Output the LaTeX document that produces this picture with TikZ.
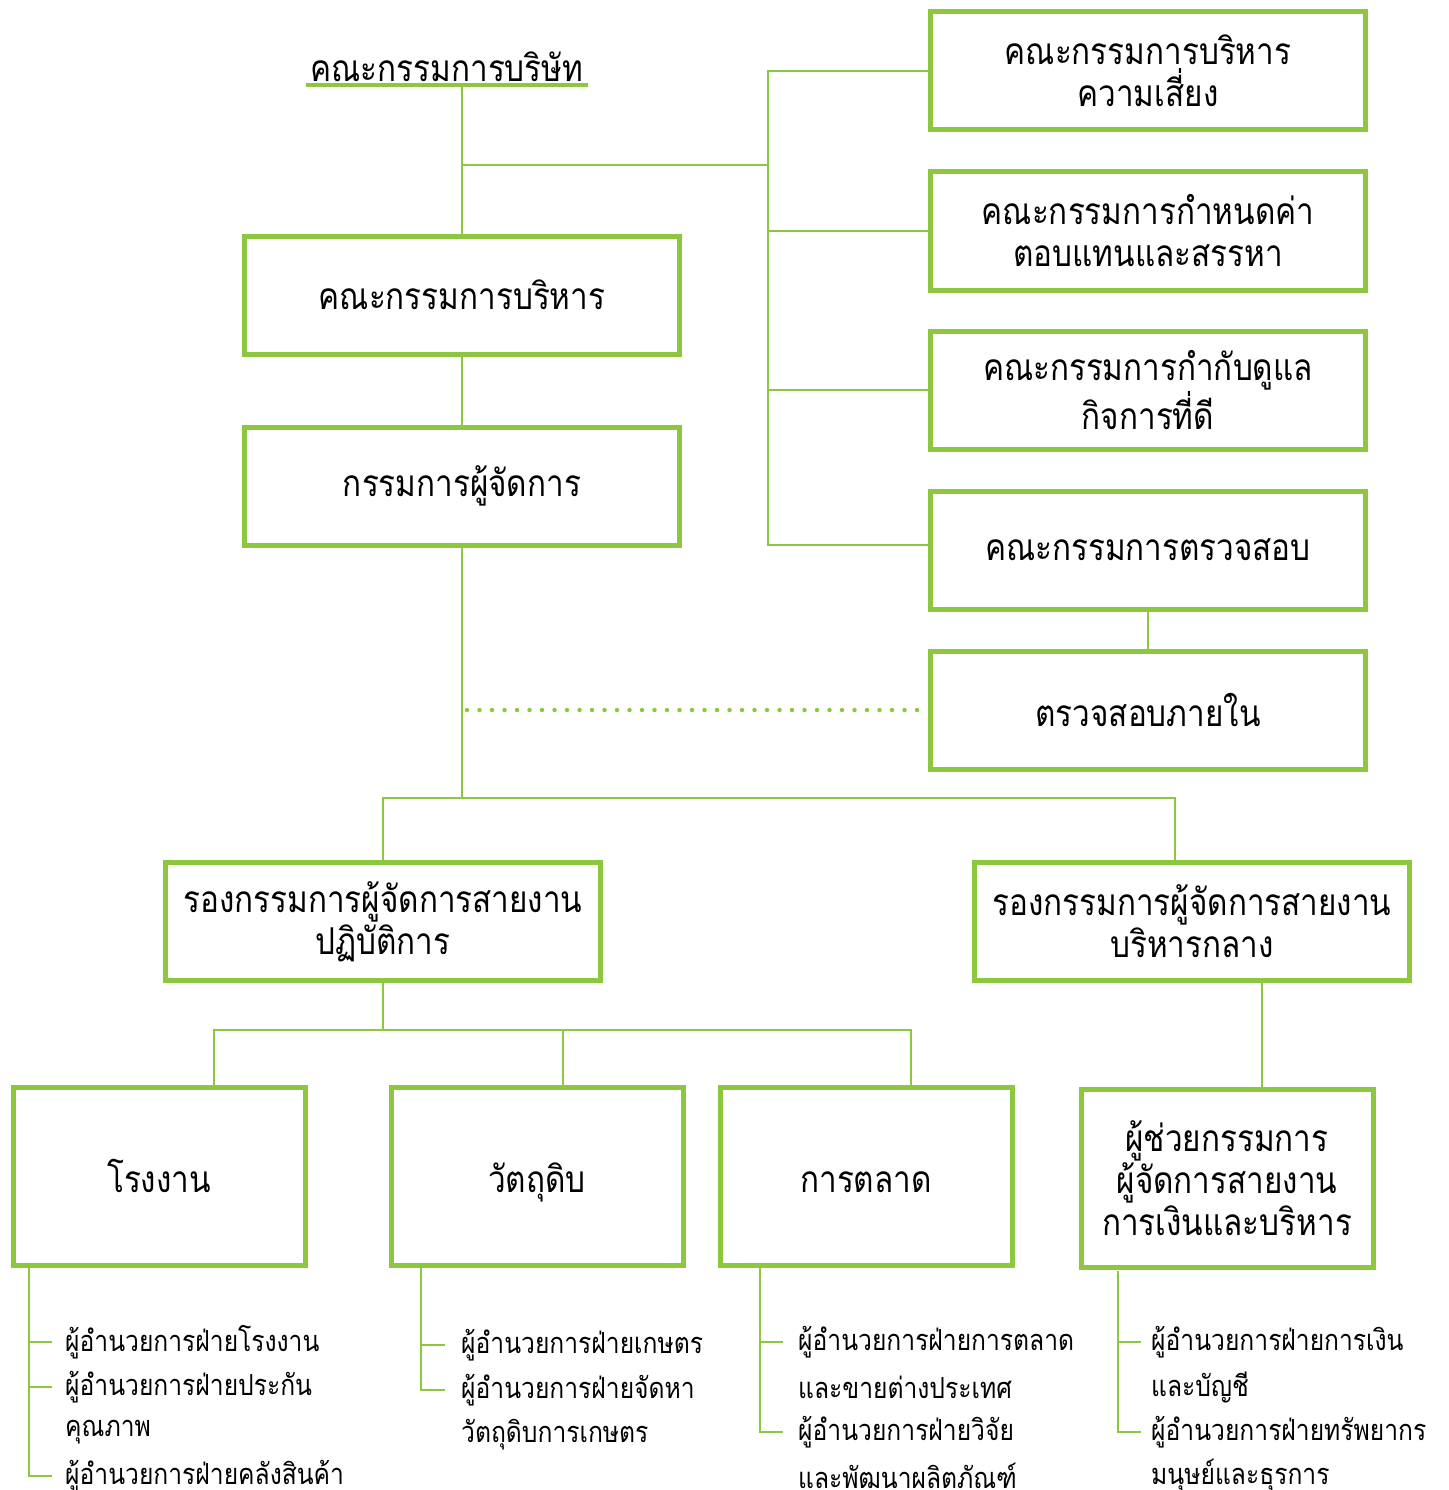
\documentclass[tikz,border=0pt]{standalone}
\usepackage{fontspec}
\newfontfamily\thaifont[Script=Thai, FakeStretch=0.85]{Loma}
\usetikzlibrary{positioning}
\definecolor{leaf}{HTML}{8DC63F}

\begin{document}
\begin{tikzpicture}[x=1pt, y=-1pt,
    % --- Styles ---
    block/.style={
        rectangle,
        draw=leaf,
        fill=white,
        line width=5pt,
        minimum width=435pt,
        minimum height=118pt,
        align=center,
        font=\thaifont\fontsize{37}{42}\selectfont
    },
    unit/.style={
        block,
        minimum width=292pt,
        minimum height=178pt
    },
    unitone/.style={
        unit,
        text height=38pt,
        text depth=6pt
    },
    title/.style={
        minimum width=282pt,
        inner xsep=0pt,
        inner ysep=3pt,
        font=\thaifont\fontsize{37}{42}\selectfont
    },
    item/.style={
        anchor=west,
        inner sep=0pt,
        font=\thaifont\fontsize{29}{30}\selectfont
    },
    link/.style={draw=leaf, line width=2.5pt},
    dotline/.style={draw=leaf, line width=4.5pt, line cap=round, dash pattern=on 0pt off 12.5pt}
]
\useasboundingbox (0,0) rectangle (1448,1490);

% --- Board and committees ---
\node[title, anchor=south] (board) at (447,85) {คณะกรรมการบริษัท};
\node[block] (exec) at (462,295) {คณะกรรมการบริหาร};
\node[block, below=68pt of exec] (md) {กรรมการผู้จัดการ};

\node[block] (risk) at (1148,71) {คณะกรรมการบริหาร\\ความเสี่ยง};
\node[block, below=37pt of risk] (pay) {คณะกรรมการกำหนดค่า\\ตอบแทนและสรรหา};
\node[block, below=36pt of pay] (gov) {คณะกรรมการกำกับดูแล\\กิจการที่ดี};
\node[block, below=37pt of gov] (audit) {คณะกรรมการตรวจสอบ};
\node[block, below=37pt of audit] (internal) {ตรวจสอบภายใน};

% --- Deputies ---
\node[block] (ops) at (383,921.5) {รองกรรมการผู้จัดการสายงาน\\ปฏิบัติการ};
\node[block, right=369pt of ops] (admin) {รองกรรมการผู้จัดการสายงาน\\บริหารกลาง};

% --- Units ---
\node[unitone] (plant) at (159,1176.5) {โรงงาน};
\node[unitone, right=81pt of plant] (raw) {วัตถุดิบ};
\node[unitone, right=32pt of raw] (mkt) {การตลาด};
\node[unit, right=64pt of mkt, yshift=-2pt] (asst) {ผู้ช่วยกรรมการ\\ผู้จัดการสายงาน\\การเงินและบริหาร};

% --- Junctions ---
\coordinate (bus) at (768,165);
\coordinate (spine) at (768,545);
\coordinate (split) at (462,798);
\coordinate (fork) at (383,1030);

% --- Lines ---
\draw[leaf, line width=4pt] (board.south west) -- (board.south east);
\draw[link] (exec.north |- board.south) -- (exec.north);
\draw[link] (exec.north |- bus) -- (bus);
\draw[link] (risk.west) -| (spine) -- (audit.west |- spine);
\draw[link] (pay.west -| spine) -- (pay.west);
\draw[link] (gov.west -| spine) -- (gov.west);
\draw[link] (exec) -- (md);
\draw[link] (audit) -- (internal);
\draw[link] (md.south) -- (split);
\draw[dotline] ([xshift=5pt]md.south |- internal.west) -- (internal.west);
\draw[link] (ops.north) |- (split) -| ([xshift=-17pt]admin.north);
\draw[link] (ops.south) -- (fork);
\draw[link] ([xshift=55pt]plant.north) |- (fork) -| ([xshift=45pt]mkt.north);
\draw[link] ([xshift=26pt]raw.north) -- ([xshift=26pt]raw.north |- fork);
\draw[link] ([xshift=35pt]asst.north) -- ([xshift=35pt]asst.north |- admin.south);

% --- Lists ---
\node[item] (p1) at (65,1342) {ผู้อำนวยการฝ่ายโรงงาน};
\node[item] (p2) at (65,1387) {ผู้อำนวยการฝ่ายประกัน};
\node[item] (p2b) at (65,1432) {คุณภาพ};
\node[item] (p3) at (65,1476) {ผู้อำนวยการฝ่ายคลังสินค้า};
\coordinate (ptrunk) at (29,1268);
\draw[link] (ptrunk) |- ([xshift=-13pt]p3.west);
\draw[link] (ptrunk |- p1.west) -- ([xshift=-13pt]p1.west);
\draw[link] (ptrunk |- p2.west) -- ([xshift=-13pt]p2.west);

\node[item] (r1) at (461,1345) {ผู้อำนวยการฝ่ายเกษตร};
\node[item] (r2) at (461,1390) {ผู้อำนวยการฝ่ายจัดหา};
\node[item] (r2b) at (461,1435) {วัตถุดิบการเกษตร};
\coordinate (rtrunk) at (421,1268);
\draw[link] (rtrunk) |- ([xshift=-16pt]r2.west);
\draw[link] (rtrunk |- r1.west) -- ([xshift=-16pt]r1.west);

\node[item] (m1) at (798,1342) {ผู้อำนวยการฝ่ายการตลาด};
\node[item] (m1b) at (798,1387) {และขายต่างประเทศ};
\node[item] (m2) at (798,1432) {ผู้อำนวยการฝ่ายวิจัย};
\node[item] (m2b) at (798,1476) {และพัฒนาผลิตภัณฑ์};
\coordinate (mtrunk) at (760,1268);
\draw[link] (mtrunk) |- ([xshift=-15pt]m2.west);
\draw[link] (mtrunk |- m1.west) -- ([xshift=-15pt]m1.west);

\node[item] (a1) at (1151,1342) {ผู้อำนวยการฝ่ายการเงิน};
\node[item] (a1b) at (1151,1387) {และบัญชี};
\node[item] (a2) at (1151,1432) {ผู้อำนวยการฝ่ายทรัพยากร};
\node[item] (a2b) at (1151,1476) {มนุษย์และธุรการ};
\coordinate (atrunk) at (1118,1271);
\draw[link] (atrunk) |- ([xshift=-10pt]a2.west);
\draw[link] (atrunk |- a1.west) -- ([xshift=-10pt]a1.west);
\end{tikzpicture}
\end{document}
